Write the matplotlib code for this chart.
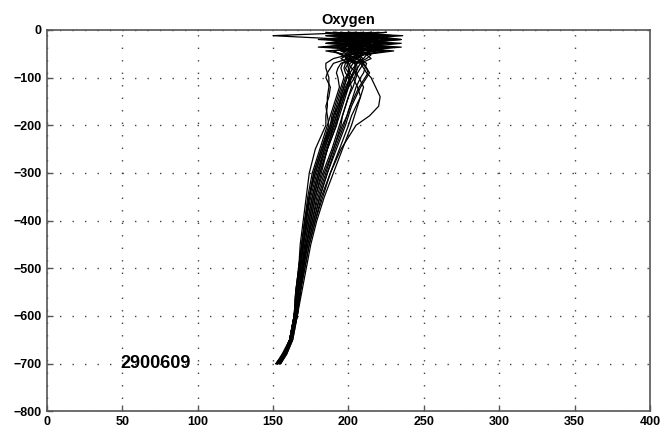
import matplotlib
matplotlib.use("Agg")
import matplotlib.pyplot as plt

plt.rcParams["font.family"] = ["Liberation Sans", "DejaVu Sans"]

# depth levels (m), each profile gives oxygen at these depths
depths = [5, 12, 20, 28, 36, 44, 52, 60, 70, 80, 90, 100, 120, 140, 160,
          180, 200, 250, 300, 350, 400, 450, 500, 550, 600, 650, 680, 700]

p01 = [205, 150, 200, 190, 225, 205, 200, 195, 200, 202, 205, 204, 200, 198, 196, 194, 192, 186, 181, 177, 174, 171, 169, 167, 165, 162, 158, 154]
p02 = [190, 236, 200, 215, 195, 210, 205, 208, 210, 212, 214, 212, 208, 205, 202, 200, 198, 192, 186, 181, 177, 173, 170, 168, 166, 162, 157, 153]
p03 = [215, 185, 230, 200, 220, 195, 210, 200, 200, 198, 200, 201, 198, 196, 194, 192, 190, 184, 179, 175, 172, 170, 168, 166, 164, 161, 157, 152]
p04 = [200, 220, 190, 235, 210, 200, 198, 205, 196, 195, 196, 197, 195, 193, 191, 189, 188, 182, 177, 174, 171, 169, 167, 166, 164, 161, 158, 155]
p05 = [225, 195, 215, 185, 230, 210, 202, 198, 208, 210, 212, 215, 218, 221, 220, 214, 205, 195, 188, 182, 178, 174, 171, 168, 166, 163, 159, 155]
p06 = [195, 210, 180, 225, 200, 215, 212, 210, 205, 204, 203, 202, 200, 197, 195, 193, 191, 185, 180, 176, 173, 170, 168, 166, 164, 161, 157, 153]
p07 = [210, 200, 225, 205, 185, 220, 200, 190, 185, 185, 186, 187, 187, 186, 186, 185, 185, 178, 174, 172, 170, 168, 167, 165, 164, 161, 157, 152]
p08 = [200, 230, 205, 190, 215, 200, 205, 203, 199, 200, 201, 203, 206, 208, 206, 204, 202, 196, 190, 184, 179, 175, 172, 169, 166, 162, 158, 154]
p09 = [220, 190, 210, 230, 195, 205, 215, 212, 206, 203, 201, 199, 197, 195, 194, 192, 190, 186, 182, 178, 175, 172, 169, 167, 165, 162, 158, 153]
p10 = [185, 215, 235, 200, 210, 190, 195, 200, 205, 206, 204, 202, 199, 196, 193, 190, 188, 183, 178, 174, 172, 170, 168, 166, 164, 161, 157, 153]
p11 = [205, 225, 195, 210, 180, 225, 208, 204, 198, 197, 198, 200, 202, 200, 198, 196, 195, 190, 185, 180, 176, 172, 170, 168, 165, 162, 158, 154]
p12 = [215, 205, 185, 220, 205, 195, 200, 206, 212, 211, 210, 208, 205, 203, 201, 199, 197, 191, 186, 181, 177, 173, 170, 168, 166, 162, 157, 153]
p13 = [195, 220, 210, 195, 235, 205, 198, 202, 195, 193, 192, 193, 194, 192, 190, 188, 186, 181, 176, 173, 171, 169, 167, 165, 164, 161, 157, 152]
p14 = [210, 185, 220, 205, 200, 230, 210, 205, 210, 208, 206, 205, 203, 200, 198, 196, 194, 189, 183, 178, 175, 172, 170, 167, 165, 162, 158, 154]
p15 = [200, 215, 200, 185, 220, 210, 205, 200, 190, 188, 186, 185, 188, 187, 185, 186, 187, 182, 177, 174, 171, 169, 167, 165, 164, 161, 156, 152]
p16 = [225, 200, 190, 215, 195, 200, 212, 215, 208, 206, 205, 207, 210, 208, 205, 202, 200, 194, 188, 183, 178, 174, 171, 168, 166, 163, 159, 155]
p17 = [190, 230, 215, 200, 225, 185, 200, 198, 204, 205, 203, 201, 199, 197, 195, 193, 192, 186, 181, 177, 174, 171, 169, 167, 165, 162, 158, 154]
p18 = [205, 195, 235, 210, 190, 215, 205, 210, 203, 201, 200, 198, 196, 194, 192, 190, 189, 184, 180, 176, 173, 170, 168, 166, 164, 161, 157, 153]
p19 = [215, 210, 195, 225, 205, 190, 196, 200, 209, 212, 213, 211, 207, 204, 201, 199, 196, 190, 184, 179, 176, 172, 170, 167, 165, 162, 158, 153]
p20 = [200, 190, 220, 195, 215, 225, 210, 206, 201, 200, 200, 199, 197, 195, 193, 191, 189, 183, 178, 174, 172, 170, 168, 166, 164, 161, 157, 152]

profiles = [p01, p02, p03, p04, p05, p06, p07, p08, p09, p10,
            p11, p12, p13, p14, p15, p16, p17, p18, p19, p20]

float_id = "2900609"
xticks = [0, 50, 100, 150, 200, 250, 300, 350, 400]
yticks = [0, -100, -200, -300, -400, -500, -600, -700, -800]

fig = plt.figure(figsize=(6.6, 4.28), dpi=100)
ax = fig.add_axes([0.071, 0.039, 0.914, 0.891])

for prof in profiles:
    ax.plot(prof, [-d for d in depths], color="black", lw=0.9)

ax.set_xlim(0, 400)
ax.set_ylim(-800, 0)
ax.set_xticks(xticks)
ax.set_yticks(yticks)
ax.grid(True, color="#444444", linestyle=(0, (1, 8)), lw=1.0)
ax.tick_params(direction="in", length=4, width=1, color="#555555",
               labelsize=9)
for lab in ax.get_xticklabels() + ax.get_yticklabels():
    lab.set_fontweight("bold")
for sp in ax.spines.values():
    sp.set_color("#555555")
    sp.set_linewidth(1.2)

ax.set_title("Oxygen", fontsize=10.5, fontweight="bold", pad=4)
ax.text(49, -700, float_id, fontsize=13, fontweight="bold", va="center")

fig.savefig("out.png", dpi=100)
